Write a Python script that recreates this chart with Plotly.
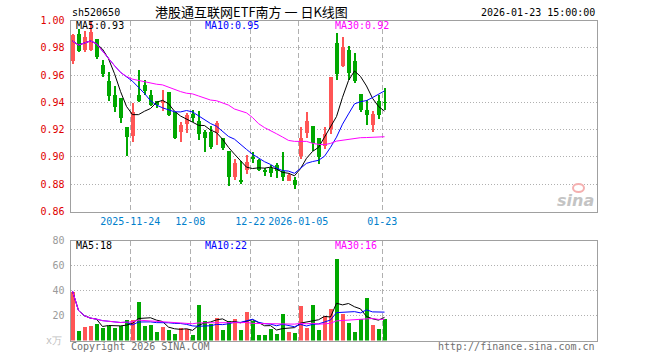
import plotly.graph_objects as go

# ---------------- data ----------------
tick_idx = [10, 20, 30, 38, 52]
tick_labels = ["2025-11-24", "12-08", "12-22", "2026-01-05", "01-23"]

open_ = [0.9708, 0.9904, 0.9787, 0.979, 0.9867, 0.9676, 0.9558, 0.9461, 0.9432, 0.9224,
         0.9158, 0.9454, 0.9528, 0.9454, 0.941, 0.9397, 0.9479, 0.9336, 0.919, 0.9244,
         0.9319, 0.9269, 0.919, 0.919, 0.9182, 0.9146, 0.9047, 0.8859, 0.8829, 0.8911,
         0.8995, 0.898, 0.8902, 0.8923, 0.8943, 0.8899, 0.8829, 0.8834, 0.901, 0.9182,
         0.923, 0.9143, 0.9081, 0.921, 0.984, 0.9667, 0.979, 0.9709, 0.9462, 0.9346,
         0.9238, 0.9415, 0.9402]
close = [0.9895, 0.978, 0.988, 0.992, 0.9733, 0.9615, 0.9449, 0.9367, 0.9286, 0.915,
         0.9336, 0.9417, 0.9486, 0.9385, 0.9385, 0.9417, 0.9311, 0.9146, 0.9239, 0.9313,
         0.9289, 0.9175, 0.9146, 0.9076, 0.9256, 0.9066, 0.8857, 0.8958, 0.8827, 0.8965,
         0.8993, 0.8911, 0.8895, 0.8886, 0.8899, 0.8854, 0.8874, 0.8795, 0.9146, 0.9269,
         0.9106, 0.90, 0.9173, 0.9588, 0.9612, 0.981, 0.9622, 0.9563, 0.9346, 0.9309,
         0.9322, 0.9309, 0.94]
high = [0.9904, 0.9941, 0.993, 1.0, 0.9867, 0.9714, 0.9625, 0.9523, 0.9432, 0.9224,
        0.9402, 0.9644, 0.957, 0.9491, 0.9417, 0.9496, 0.9479, 0.9336, 0.9261, 0.9323,
        0.9348, 0.9338, 0.92, 0.9232, 0.9269, 0.9146, 0.9047, 0.8985, 0.8973, 0.9015,
        0.9037, 0.8985, 0.8925, 0.8944, 0.8962, 0.9041, 0.8886, 0.8855, 0.9224, 0.9332,
        0.923, 0.9146, 0.922, 0.9588, 0.9914, 0.9886, 0.9815, 0.9763, 0.9462, 0.942,
        0.9338, 0.9455, 0.9506]
low = [0.9684, 0.977, 0.9775, 0.978, 0.972, 0.959, 0.941, 0.933, 0.9249, 0.901,
       0.9116, 0.9404, 0.9454, 0.938, 0.9365, 0.9338, 0.9306, 0.9138, 0.9116, 0.9178,
       0.9257, 0.9126, 0.9042, 0.906, 0.9091, 0.9054, 0.8787, 0.8838, 0.8805, 0.8882,
       0.8958, 0.8898, 0.8866, 0.8855, 0.885, 0.8825, 0.8825, 0.877, 0.8988, 0.9146,
       0.905, 0.8955, 0.906, 0.917, 0.9568, 0.9662, 0.9568, 0.9545, 0.933, 0.9235,
       0.9185, 0.9283, 0.9346]

ma5 = [0.985, 0.982, 0.9835, 0.985, 0.983, 0.979, 0.972, 0.961, 0.948, 0.937,
       0.931, 0.931, 0.9335, 0.9355, 0.940, 0.9415, 0.939, 0.9335, 0.930, 0.928,
       0.9255, 0.9232, 0.923, 0.9197, 0.9178, 0.913, 0.907, 0.902, 0.897, 0.8925,
       0.8915, 0.892, 0.8918, 0.8925, 0.8912, 0.8887, 0.888, 0.8862, 0.8914, 0.899,
       0.904, 0.907, 0.9145, 0.9225, 0.9296, 0.9437, 0.956, 0.963, 0.959, 0.952,
       0.943, 0.937, 0.9336]
ma10 = [0.985, 0.982, 0.9835, 0.985, 0.983, 0.9775, 0.9726, 0.9669, 0.962, 0.959,
        0.9555, 0.951, 0.9465, 0.9412, 0.938, 0.936, 0.9345, 0.9331, 0.933, 0.934,
        0.933, 0.930, 0.927, 0.9245, 0.9225, 0.919, 0.915, 0.913, 0.909, 0.9055,
        0.902, 0.899, 0.8965, 0.8945, 0.8918, 0.890, 0.8896, 0.888, 0.892, 0.8953,
        0.8966, 0.8975, 0.9005, 0.907, 0.9145, 0.924, 0.9315, 0.9389, 0.9405, 0.9413,
        0.9435, 0.946, 0.9484]
ma30 = [0.985, 0.982, 0.9835, 0.985, 0.983, 0.9775, 0.9726, 0.9669, 0.962, 0.959,
        0.957, 0.956, 0.9548, 0.9541, 0.9533, 0.9528, 0.9511, 0.9491, 0.9479, 0.9467,
        0.9462, 0.9447, 0.943, 0.9417, 0.9412, 0.9398, 0.938, 0.9351, 0.9338, 0.9323,
        0.9289, 0.9244, 0.9215, 0.9195, 0.917, 0.9146, 0.9121, 0.9114, 0.9114, 0.9114,
        0.910, 0.9092, 0.909, 0.9099, 0.9116, 0.9123, 0.9131, 0.9134, 0.9141, 0.9142,
        0.9143, 0.9145, 0.9148]

volume = [39.5, 8.4, 11.5, 12.3, 13.7, 10.2, 12.1, 10.2, 12.1, 17.1,
          17.1, 31.5, 12.3, 13.1, 7.6, 11.5, 9.2, 5.8, 10.5, 9.9,
          5.1, 28.8, 16.3, 13.7, 18.5, 9.2, 16.3, 17.8, 9.2, 23.4,
          16.3, 5.1, 5.1, 9.7, 5.8, 21.6, 7.6, 6.6, 28.1, 10.2,
          28.7, 9.2, 20.2, 25.8, 65.3, 21.9, 14.7, 7.2, 17.3, 34.7,
          13.1, 9.3, 17.9]
vma5 = [39.5, 24.0, 19.8, 17.9, 17.1, 11.2, 12.0, 11.7, 11.7, 12.3,
        13.7, 17.6, 18.0, 18.2, 16.3, 15.2, 10.7, 9.4, 8.9, 9.4,
        8.1, 12.0, 14.1, 14.8, 16.5, 17.3, 14.8, 15.1, 14.2, 15.2,
        16.6, 14.4, 11.8, 11.9, 8.4, 9.5, 10.0, 10.3, 13.9, 14.8,
        16.2, 16.6, 19.3, 18.8, 29.8, 28.5, 29.6, 27.0, 25.3, 19.2,
        17.4, 16.3, 18.5]
vma10 = [39.5, 24.0, 19.8, 17.9, 17.1, 15.9, 15.4, 14.7, 14.4, 14.7,
         12.5, 14.8, 14.9, 14.9, 14.3, 14.5, 14.2, 13.7, 13.6, 12.9,
         11.7, 11.4, 11.8, 11.8, 12.9, 12.7, 13.4, 14.6, 14.5, 15.8,
         17.0, 14.6, 13.5, 13.1, 11.8, 13.0, 12.2, 11.0, 12.9, 11.6,
         12.9, 13.3, 14.8, 16.4, 22.3, 22.4, 23.1, 23.1, 22.1, 24.5,
         22.9, 23.0, 22.7]
vma30 = [39.5, 24.0, 19.8, 17.9, 17.1, 15.9, 15.4, 14.7, 14.4, 14.7,
         14.9, 16.3, 16.0, 15.8, 15.2, 15.0, 14.7, 14.2, 14.0, 13.8,
         13.4, 14.1, 14.2, 14.1, 14.3, 14.1, 14.2, 14.3, 14.2, 14.5,
         13.7, 13.6, 13.4, 13.3, 13.0, 13.4, 13.2, 13.1, 13.7, 13.4,
         13.8, 13.1, 13.3, 13.8, 15.7, 16.0, 16.2, 16.3, 16.5, 17.3,
         17.6, 16.9, 17.0]

price_ticks = [0.86, 0.88, 0.90, 0.92, 0.94, 0.96, 0.98, 1.00]
vol_ticks = [20, 40, 60, 80]

# ---------------- styling ----------------
W, H = 660, 360
RED = "#ff5555"
GREEN = "#00a800"
GRID = "#b0b0b0"
BORDER = "#a0a0a0"
MONO = "DejaVu Sans Mono"

n = len(close)
x = list(range(n))
colors = [RED if c > o else GREEN for o, c in zip(open_, close)]


def px_x(p):
    return p / W


def px_y(p):
    return 1 - p / H


# pixel geometry of plot areas
L, R = 70.5, 596.5
MAIN_T, MAIN_B = 20.5, 211.5
VOL_T, VOL_B = 240.5, 340.5
STEP = 6.0          # pixels per trading day
FIRST = 72.5        # pixel centre of first candle
x_range = [(L - FIRST) / STEP, (R - FIRST) / STEP]
grid_x = [i - 0.37 for i in tick_idx]

fig = go.Figure()

# wicks
fig.add_trace(go.Bar(
    x=x, y=[h - l for h, l in zip(high, low)], base=low, width=0.17,
    marker=dict(color=colors, line=dict(width=0)),
    xaxis="x", yaxis="y", hoverinfo="skip", showlegend=False))
# bodies
fig.add_trace(go.Bar(
    x=x, y=[max(abs(c - o), 0.0005) for o, c in zip(open_, close)],
    base=[min(o, c) for o, c in zip(open_, close)], width=0.83,
    marker=dict(color=colors, line=dict(width=0)),
    xaxis="x", yaxis="y", hoverinfo="skip", showlegend=False))
# price moving averages
for arr, col in [(ma5, "#000000"), (ma10, "#0000ff"), (ma30, "#ff00ff")]:
    fig.add_trace(go.Scatter(x=x, y=arr, mode="lines", line=dict(color=col, width=1),
                             xaxis="x", yaxis="y", hoverinfo="skip", showlegend=False))

# volume
fig.add_trace(go.Bar(
    x=x, y=volume, width=0.83, marker=dict(color=colors, line=dict(width=0)),
    xaxis="x2", yaxis="y2", hoverinfo="skip", showlegend=False))
for arr, col in [(vma5, "#000000"), (vma10, "#0000ff"), (vma30, "#ff00ff")]:
    fig.add_trace(go.Scatter(x=x, y=arr, mode="lines", line=dict(color=col, width=1),
                             xaxis="x2", yaxis="y2", hoverinfo="skip", showlegend=False))

axis_common = dict(showline=True, mirror=True, linecolor=BORDER, linewidth=1,
                   zeroline=False, ticks="", fixedrange=True, automargin=False)

fig.update_layout(
    width=W, height=H, margin=dict(l=0, r=0, t=0, b=0, pad=0, autoexpand=False),
    paper_bgcolor="white", plot_bgcolor="white",
    barmode="overlay", bargap=0, showlegend=False,
    font=dict(family=MONO, size=10, color="#000"),
    xaxis=dict(domain=[px_x(L), px_x(R)], range=x_range, anchor="y",
               tickmode="array", tickvals=grid_x, ticktext=tick_labels,
               tickfont=dict(family=MONO, size=10, color="#0080cc"),
               showgrid=True, gridcolor=GRID, griddash="5px,3px", gridwidth=1,
               **axis_common),
    yaxis=dict(domain=[px_y(MAIN_B), px_y(MAIN_T)], range=[0.86, 1.00], anchor="x",
               tickmode="array", tickvals=price_ticks,
               ticktext=[f"{v:.2f}" for v in price_ticks],
               tickfont=dict(family=MONO, size=10, color="#e00000"),
               showgrid=True, gridcolor=GRID, griddash="1px,2px", gridwidth=1,
               ticklabelstandoff=3,
               **axis_common),
    xaxis2=dict(domain=[px_x(L), px_x(R)], range=x_range, anchor="y2",
                tickmode="array", tickvals=grid_x, showticklabels=False,
                showgrid=True, gridcolor=GRID, griddash="5px,3px", gridwidth=1,
                **axis_common),
    yaxis2=dict(domain=[px_y(VOL_B), px_y(VOL_T)], range=[0, 80], anchor="x2",
                tickmode="array", tickvals=vol_ticks,
                ticktext=[str(v) for v in vol_ticks],
                tickfont=dict(family=MONO, size=10, color="#9a9a9a"),
                showgrid=True, gridcolor=GRID, griddash="1px,2px", gridwidth=1,
                ticklabelstandoff=3,
                **axis_common),
)


def label(text, xp, yp, color="#000", size=10, anchor="left", family=MONO, **kw):
    fig.add_annotation(x=px_x(xp), y=px_y(yp), xref="paper", yref="paper",
                       text=text, showarrow=False, xanchor=anchor, yanchor="middle",
                       font=dict(family=family, size=size, color=color, **kw))


label("sh520650", 70, 13)
label("港股通互联网ETF南方 一 日K线图", 251, 12, size=13, anchor="center",
      family="Noto Sans CJK SC")
label("2026-01-23 15:00:00", 597, 13, anchor="right")

label("MA5:0.93", 74, 26)
label("MA10:0.95", 203, 26, color="#0000ff")
label("MA30:0.92", 333, 26, color="#ff00ff")

label("MA5:18", 74, 245.5)
label("MA10:22", 203, 245.5, color="#0000ff")
label("MA30:16", 333, 245.5, color="#ff00ff")

label("x万", 64, 340, color="#c0c0c0", anchor="right")
label("Copyright 2026 SINA.COM", 69, 346, color="#707070")
label("http://finance.sina.com.cn", 597, 346, color="#707070", anchor="right")

# sina watermark
label("sina", 596, 200, color="#c4c4c4", size=16, anchor="right",
      family="DejaVu Sans", weight="bold", style="italic")
fig.add_shape(type="circle", xref="paper", yref="paper",
              x0=px_x(573), x1=px_x(584), y0=px_y(192), y1=px_y(184),
              line=dict(color="#f4b0b0", width=2), fillcolor="rgba(0,0,0,0)")

fig.write_html("out.html", config={"displayModeBar": False},
               post_script="document.body.style.margin='0px';")
